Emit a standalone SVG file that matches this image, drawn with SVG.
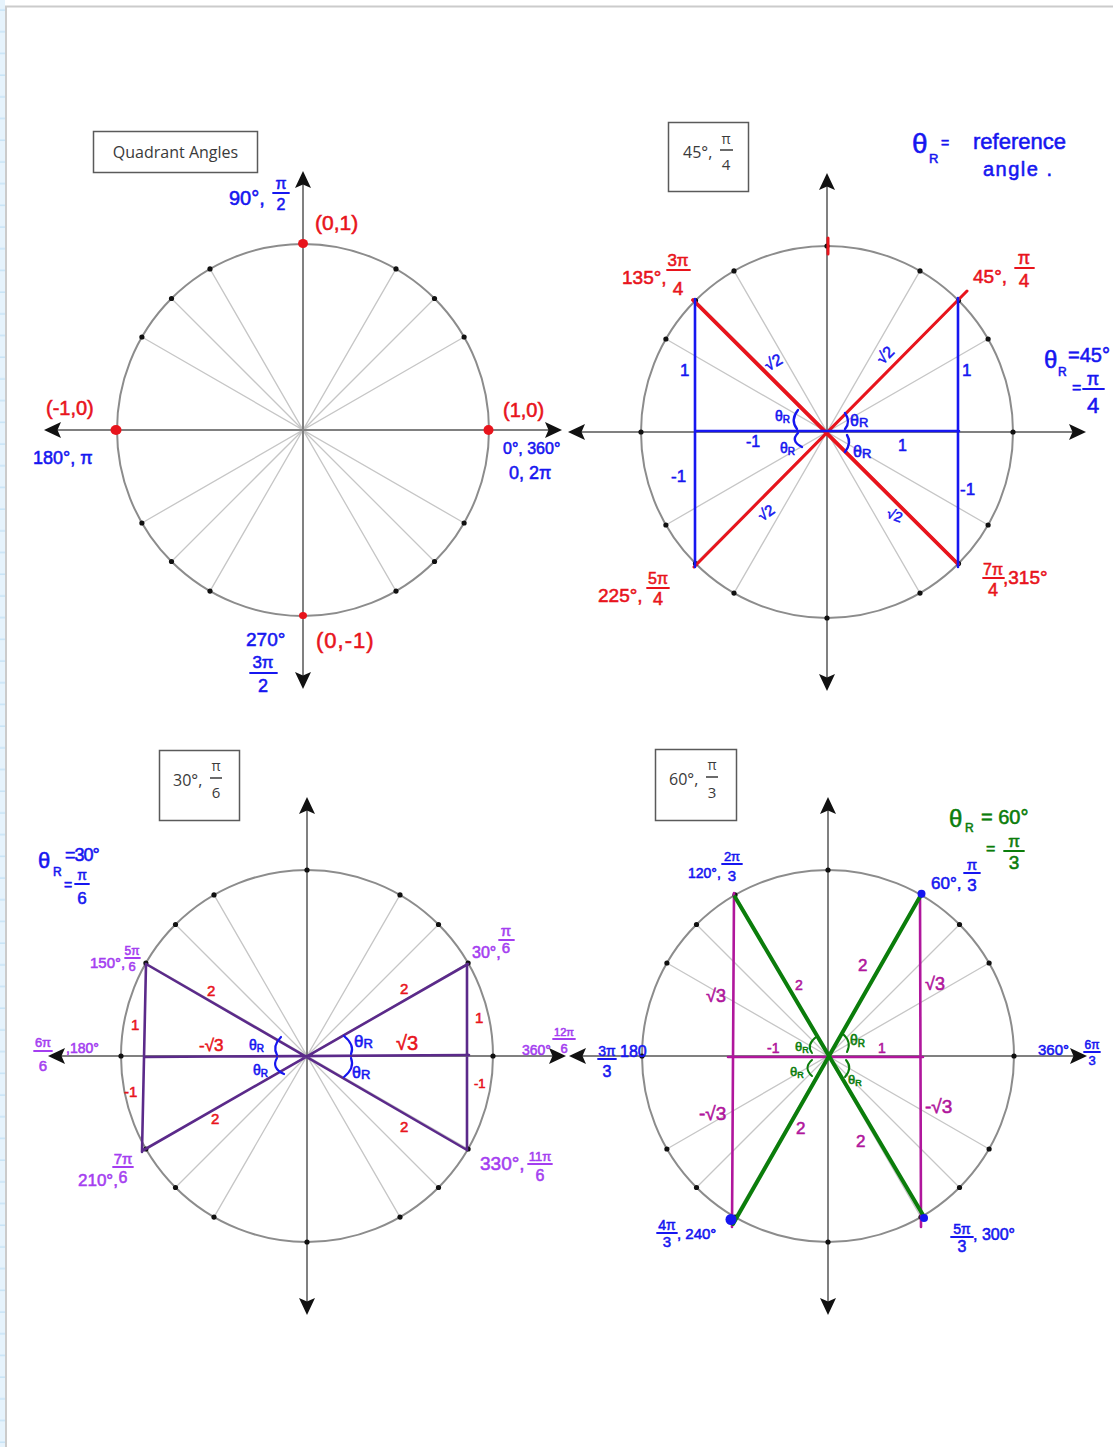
<svg xmlns="http://www.w3.org/2000/svg" width="1113" height="1447" viewBox="0 0 1113 1447">
<style>
.hw{font-family:"Liberation Sans",Arial,sans-serif;stroke-width:0.55;paint-order:stroke}
.mid{text-anchor:middle}
.b{fill:#1616f0;stroke:#1616f0}
.r{fill:#e8141c;stroke:#e8141c}
.p{fill:#a43ef0;stroke:#a43ef0}
.m{fill:#b0169c;stroke:#b0169c}
.g{fill:#0b7d0b;stroke:#0b7d0b}
.sb{stroke:#1616f0;fill:none;stroke-linecap:round}
.sr{stroke:#e8141c;fill:none;stroke-linecap:round}
.sp{stroke:#a43ef0;fill:none;stroke-linecap:round}
.sm{stroke:#b0169c;fill:none;stroke-linecap:round}
.sg{stroke:#0b7d0b;fill:none;stroke-linecap:round}
.sd{stroke:#5b2a8a;fill:none;stroke-linecap:round}
.bar{stroke-width:1.8}
.box{fill:#fff;stroke:#5a5a5a;stroke-width:1.5}
.bt{font-family:"Open Sans","Liberation Sans",sans-serif;fill:#3a3a3a}
.rad{stroke:#c6c6c6;stroke-width:1.3;fill:none}
.axis{stroke:#808080;stroke-width:2;fill:none}
.ring{stroke:#8c8c8c;stroke-width:2;fill:none}
.arr{fill:#111}
.dot{fill:#111}
</style>
<defs>
<pattern id="tick" width="5" height="21.7" patternUnits="userSpaceOnUse">
<rect width="5" height="21.7" fill="#e6f3fc"/>
<line x1="0" y1="10" x2="5" y2="10" stroke="#b8dcf4" stroke-width="1"/>
</pattern>
<g id="base">
<path class="rad" d="M-161.1,93 L161.1,-93 M-131.5,131.5 L131.5,-131.5 M-93,161.1 L93,-161.1 M-93,-161.1 L93,161.1 M-131.5,-131.5 L131.5,131.5 M-161.1,-93 L161.1,93"/>
<circle class="ring" cx="0" cy="0" r="186"/>
<path class="axis" d="M-246,0 H246 M0,-246 V246"/>
<path class="arr" d="M259,0 L242,-8 L245.5,0 L242,8 Z"/>
<path class="arr" d="M-259,0 L-242,-8 L-245.5,0 L-242,8 Z"/>
<path class="arr" d="M0,-259 L-8,-242 L0,-245.5 L8,-242 Z"/>
<path class="arr" d="M0,259 L-8,242 L0,245.5 L8,242 Z"/>
<g class="dot">
<circle cx="186" cy="0" r="2.6"/><circle cx="161.1" cy="-93" r="2.6"/><circle cx="131.5" cy="-131.5" r="2.6"/><circle cx="93" cy="-161.1" r="2.6"/>
<circle cx="0" cy="-186" r="2.6"/><circle cx="-93" cy="-161.1" r="2.6"/><circle cx="-131.5" cy="-131.5" r="2.6"/><circle cx="-161.1" cy="-93" r="2.6"/>
<circle cx="-186" cy="0" r="2.6"/><circle cx="-161.1" cy="93" r="2.6"/><circle cx="-131.5" cy="131.5" r="2.6"/><circle cx="-93" cy="161.1" r="2.6"/>
<circle cx="0" cy="186" r="2.6"/><circle cx="93" cy="161.1" r="2.6"/><circle cx="131.5" cy="131.5" r="2.6"/><circle cx="161.1" cy="93" r="2.6"/>
</g>
</g>
</defs>

<rect width="1113" height="1447" fill="#fff"/>
<g id="page-edge">
<rect x="0" y="0" width="5" height="1447" fill="url(#tick)"/>
<path d="M6,1447 V6.5 H1113" stroke="#cbcbcb" stroke-width="2" fill="none"/>
</g>

<!-- Panel 1: Quadrant Angles -->
<g id="panel-quadrant">
<use href="#base" x="303" y="430"/>
<rect class="box" x="93.5" y="131.5" width="164" height="41"/>
<text class="bt" x="175.5" y="158" font-size="16" text-anchor="middle">Quadrant Angles</text>
<g fill="#e8141c">
<ellipse cx="303" cy="243.5" rx="5" ry="4.5"/>
<ellipse cx="116" cy="430" rx="5.5" ry="5"/>
<ellipse cx="488.5" cy="430" rx="5" ry="5"/>
<ellipse cx="303" cy="615.5" rx="4" ry="3.5"/>
</g>
<text class="hw b" x="229" y="205" font-size="20">90°,</text>
<text class="hw b mid" x="281" y="189" font-size="16">π</text>
<line class="sb bar" x1="273" y1="193" x2="289" y2="193"/>
<text class="hw b mid" x="281" y="210" font-size="16">2</text>
<text class="hw r" x="315" y="230" font-size="21">(0,1)</text>
<text class="hw r" x="46" y="415" font-size="20">(-1,0)</text>
<text class="hw b" x="33" y="464" font-size="18">180°, π</text>
<text class="hw r" x="503" y="417" font-size="20">(1,0)</text>
<text class="hw b" x="503" y="454" font-size="16">0°, 360°</text>
<text class="hw b" x="509" y="479" font-size="18">0, 2π</text>
<text class="hw b" x="246" y="646" font-size="19">270°</text>
<text class="hw b mid" x="263" y="668" font-size="17">3π</text>
<line class="sb bar" x1="250" y1="673" x2="277" y2="673"/>
<text class="hw b mid" x="263" y="692" font-size="18">2</text>
<text class="hw r" x="316" y="648" font-size="22" letter-spacing="1">(0,-1)</text>
</g>

<!-- Panel 2: 45 degrees -->
<g id="panel-45">
<use href="#base" x="827" y="432"/>
<rect class="box" x="668.5" y="122.5" width="80" height="69"/>
<text class="bt" x="683" y="158" font-size="16">45°,</text>
<text class="bt" x="726" y="144" font-size="14" text-anchor="middle">π</text>
<line x1="720" y1="150" x2="733" y2="150" stroke="#3a3a3a" stroke-width="1.5"/>
<text class="bt" x="726" y="170" font-size="15" text-anchor="middle">4</text>
<path class="sr" stroke-width="3.8" d="M693,300 L958,564"/>
<path class="sr" stroke-width="3" d="M694,567 L967,291"/>
<path class="sb" stroke-width="2.6" d="M695,299 V567 M958,298 L958,567 M695,431 H959"/>
<path class="sr" stroke-width="3" d="M828,238 V254"/>
<path class="sb" stroke-width="2.4" d="M798,410 Q790,420 797,429 M798,433 Q790,441 802,447 M845,413 Q851,422 845,429 M847,435 Q852,443 845,452"/>
<text class="hw b" x="912" y="153" font-size="28">θ</text>
<text class="hw b" x="929" y="163" font-size="13">R</text>
<text class="hw b" x="941" y="148" font-size="14">=</text>
<text class="hw b" x="973" y="149" font-size="22">reference</text>
<text class="hw b" x="983" y="176" font-size="20" letter-spacing="1.5">angle .</text>
<text class="hw r" x="622" y="284" font-size="19">135°,</text>
<text class="hw r mid" x="678" y="266" font-size="17">3π</text>
<line class="sr bar" x1="667" y1="270" x2="690" y2="270"/>
<text class="hw r mid" x="678" y="295" font-size="19">4</text>
<text class="hw r" x="973" y="283" font-size="19">45°,</text>
<text class="hw r mid" x="1024" y="264" font-size="18">π</text>
<line class="sr bar" x1="1015" y1="268" x2="1034" y2="268"/>
<text class="hw r mid" x="1024" y="287" font-size="19">4</text>
<text class="hw r" x="598" y="602" font-size="19">225°,</text>
<text class="hw r mid" x="658" y="584" font-size="16">5π</text>
<line class="sr bar" x1="647" y1="588" x2="669" y2="588"/>
<text class="hw r mid" x="658" y="605" font-size="18">4</text>
<text class="hw r mid" x="993" y="575" font-size="16">7π</text>
<line class="sr bar" x1="983" y1="578" x2="1004" y2="578"/>
<text class="hw r mid" x="993" y="596" font-size="18">4</text>
<text class="hw r" x="1003" y="584" font-size="19">,315°</text>
<text class="hw b" x="1044" y="368" font-size="24">θ</text>
<text class="hw b" x="1058" y="376" font-size="12">R</text>
<text class="hw b" x="1068" y="362" font-size="20">=45°</text>
<text class="hw b" x="1072" y="393" font-size="16">=</text>
<text class="hw b mid" x="1093" y="385" font-size="18">π</text>
<line class="sb bar" x1="1083" y1="389" x2="1104" y2="389"/>
<text class="hw b mid" x="1093" y="413" font-size="22">4</text>
<text class="hw b mid" font-size="16" transform="translate(776,367) rotate(-30)">√2</text>
<text class="hw b mid" font-size="16" transform="translate(889,359) rotate(-45)">√2</text>
<text class="hw b mid" font-size="15" transform="translate(769,517) rotate(-35)">√2</text>
<text class="hw b mid" font-size="14" transform="translate(893,520) rotate(20)">√2</text>
<text class="hw b" x="680" y="376" font-size="17">1</text>
<text class="hw b" x="962" y="376" font-size="17">1</text>
<text class="hw b" x="671" y="482" font-size="17">-1</text>
<text class="hw b" x="960" y="495" font-size="17">-1</text>
<text class="hw b" x="746" y="447" font-size="16">-1</text>
<text class="hw b" x="898" y="451" font-size="16">1</text>
<text class="hw b" x="775" y="421" font-size="14">θ<tspan font-size="10" dy="2">R</tspan></text>
<text class="hw b" x="780" y="453" font-size="14">θ<tspan font-size="10" dy="2">R</tspan></text>
<text class="hw b" x="850" y="426" font-size="16">θ<tspan font-size="13" dy="1">R</tspan></text>
<text class="hw b" x="853" y="457" font-size="16">θ<tspan font-size="13" dy="1">R</tspan></text>
</g>

<!-- Panel 3: 30 degrees -->
<g id="panel-30">
<use href="#base" x="307" y="1056"/>
<rect class="box" x="159.5" y="750.5" width="80" height="70"/>
<text class="bt" x="173" y="786" font-size="16">30°,</text>
<text class="bt" x="216" y="771" font-size="14" text-anchor="middle">π</text>
<line x1="210" y1="778" x2="222" y2="778" stroke="#3a3a3a" stroke-width="1.5"/>
<text class="bt" x="216" y="798" font-size="15" text-anchor="middle">6</text>
<path class="sd" stroke-width="2.6" d="M146,964 L467,1150 M142,1151 L468,964 M146,964 L142,1152 M467,964 L467,1150 M146,1057 L469,1055"/>
<path class="sb" stroke-width="2.2" d="M281,1037 Q272,1046 277,1055 M277,1058 Q271,1068 284,1074 M344,1036 Q355,1045 351,1054 M351,1058 Q355,1068 344,1077"/>
<text class="hw b" x="38" y="868" font-size="22">θ</text>
<text class="hw b" x="53" y="876" font-size="12">R</text>
<text class="hw b" x="65" y="861" font-size="18" letter-spacing="-1">=30°</text>
<text class="hw b" x="64" y="890" font-size="14">=</text>
<text class="hw b mid" x="82" y="880" font-size="14">π</text>
<line class="sb bar" x1="75" y1="884" x2="89" y2="884"/>
<text class="hw b mid" x="82" y="904" font-size="17">6</text>
<text class="hw p" x="90" y="968" font-size="15">150°,</text>
<text class="hw p mid" x="132" y="955" font-size="12">5π</text>
<line class="sp bar" x1="125" y1="958" x2="140" y2="958"/>
<text class="hw p mid" x="132" y="971" font-size="13">6</text>
<text class="hw p" x="472" y="958" font-size="16">30°,</text>
<text class="hw p mid" x="506" y="936" font-size="15">π</text>
<line class="sp bar" x1="499" y1="940" x2="514" y2="940"/>
<text class="hw p mid" x="506" y="953" font-size="15">6</text>
<text class="hw p" x="78" y="1186" font-size="17">210°,</text>
<text class="hw p mid" x="123" y="1164" font-size="15">7π</text>
<line class="sp bar" x1="113" y1="1167" x2="133" y2="1167"/>
<text class="hw p mid" x="123" y="1183" font-size="16">6</text>
<text class="hw p" x="480" y="1170" font-size="19">330°,</text>
<text class="hw p mid" x="540" y="1161" font-size="13">11π</text>
<line class="sp bar" x1="528" y1="1164" x2="552" y2="1164"/>
<text class="hw p mid" x="540" y="1181" font-size="16">6</text>
<text class="hw p mid" x="43" y="1047" font-size="13">6π</text>
<line class="sp bar" x1="34" y1="1051" x2="52" y2="1051"/>
<text class="hw p mid" x="43" y="1071" font-size="15">6</text>
<text class="hw p" x="66" y="1053" font-size="14">,180°</text>
<text class="hw p" x="522" y="1055" font-size="14">360°</text>
<text class="hw p mid" x="564" y="1036" font-size="11">12π</text>
<line class="sp bar" x1="553" y1="1039" x2="575" y2="1039"/>
<text class="hw p mid" x="564" y="1053" font-size="13">6</text>
<text class="hw r" x="207" y="996" font-size="15">2</text>
<text class="hw r" x="400" y="994" font-size="15">2</text>
<text class="hw r" x="131" y="1030" font-size="15">1</text>
<text class="hw r" x="475" y="1023" font-size="15">1</text>
<text class="hw r" x="199" y="1051" font-size="17">-√3</text>
<text class="hw r" x="396" y="1050" font-size="20">√3</text>
<text class="hw r" x="124" y="1097" font-size="15">-1</text>
<text class="hw r" x="474" y="1088" font-size="13">-1</text>
<text class="hw r" x="211" y="1124" font-size="15">2</text>
<text class="hw r" x="400" y="1132" font-size="15">2</text>
<text class="hw b" x="249" y="1050" font-size="14">θ<tspan font-size="10" dy="2">R</tspan></text>
<text class="hw b" x="253" y="1075" font-size="14">θ<tspan font-size="10" dy="2">R</tspan></text>
<text class="hw b" x="354" y="1047" font-size="17">θ<tspan font-size="13" dy="1">R</tspan></text>
<text class="hw b" x="352" y="1078" font-size="16">θ<tspan font-size="13" dy="1">R</tspan></text>
</g>

<!-- Panel 4: 60 degrees -->
<g id="panel-60">
<use href="#base" x="828" y="1056"/>
<rect class="box" x="655.5" y="749.5" width="81" height="71"/>
<text class="bt" x="669" y="785" font-size="16">60°,</text>
<text class="bt" x="712" y="770" font-size="14" text-anchor="middle">π</text>
<line x1="706" y1="777" x2="718" y2="777" stroke="#3a3a3a" stroke-width="1.5"/>
<text class="bt" x="712" y="798" font-size="15" text-anchor="middle">3</text>
<path class="sm" stroke-width="2.6" d="M734,893 L732,1227 M920,895 L921,1227 M728,1057 L923,1057"/>
<path class="sg" stroke-width="4" d="M735,897 L923,1215 M921,895 L733,1224"/>
<g fill="#1616f0">
<circle cx="921.5" cy="893.8" r="4"/>
<circle cx="731" cy="1219.5" r="5.5"/>
<circle cx="924" cy="1218" r="4"/>
</g>
<path class="sg" stroke-width="2" d="M816,1037 Q806,1045 812,1053 M812,1060 Q803,1068 812,1076 M843,1034 Q852,1042 847,1052 M846,1060 Q853,1068 845,1077"/>
<text class="hw g" x="949" y="827" font-size="24">θ</text>
<text class="hw g" x="965" y="832" font-size="12">R</text>
<text class="hw g" x="981" y="824" font-size="20">= 60°</text>
<text class="hw g" x="986" y="854" font-size="16">=</text>
<text class="hw g mid" x="1014" y="847" font-size="17">π</text>
<line class="sg bar" x1="1004" y1="851" x2="1024" y2="851"/>
<text class="hw g mid" x="1014" y="869" font-size="19">3</text>
<text class="hw b" x="688" y="878" font-size="14">120°,</text>
<text class="hw b mid" x="732" y="861" font-size="13">2π</text>
<line class="sb bar" x1="722" y1="864" x2="742" y2="864"/>
<text class="hw b mid" x="732" y="881" font-size="15">3</text>
<text class="hw b" x="931" y="889" font-size="17">60°,</text>
<text class="hw b mid" x="972" y="870" font-size="15">π</text>
<line class="sb bar" x1="964" y1="873" x2="980" y2="873"/>
<text class="hw b mid" x="972" y="891" font-size="17">3</text>
<text class="hw b mid" x="667" y="1230" font-size="14">4π</text>
<line class="sb bar" x1="657" y1="1233" x2="677" y2="1233"/>
<text class="hw b mid" x="667" y="1247" font-size="15">3</text>
<text class="hw b" x="677" y="1239" font-size="15">, 240°</text>
<text class="hw b mid" x="962" y="1234" font-size="14">5π</text>
<line class="sb bar" x1="951" y1="1237" x2="973" y2="1237"/>
<text class="hw b mid" x="962" y="1252" font-size="16">3</text>
<text class="hw b" x="973" y="1240" font-size="16">, 300°</text>
<text class="hw b mid" x="607" y="1056" font-size="14">3π</text>
<line class="sb bar" x1="598" y1="1059" x2="616" y2="1059"/>
<text class="hw b mid" x="607" y="1077" font-size="16">3</text>
<text class="hw b" x="620" y="1057" font-size="16">180</text>
<text class="hw b" x="1038" y="1055" font-size="15">360°</text>
<text class="hw b mid" x="1092" y="1049" font-size="12">6π</text>
<line class="sb bar" x1="1084" y1="1052" x2="1100" y2="1052"/>
<text class="hw b mid" x="1092" y="1065" font-size="13">3</text>
<text class="hw m" x="706" y="1002" font-size="18">√3</text>
<text class="hw m" x="795" y="990" font-size="14">2</text>
<text class="hw m" x="858" y="971" font-size="17">2</text>
<text class="hw m" x="925" y="990" font-size="18">√3</text>
<text class="hw m" x="767" y="1053" font-size="14">-1</text>
<text class="hw m" x="878" y="1053" font-size="14">1</text>
<text class="hw m" x="699" y="1120" font-size="19">-√3</text>
<text class="hw m" x="796" y="1134" font-size="17">2</text>
<text class="hw m" x="856" y="1147" font-size="17">2</text>
<text class="hw m" x="925" y="1113" font-size="19">-√3</text>
<text class="hw g" x="795" y="1051" font-size="13">θ<tspan font-size="9" dy="2">R</tspan></text>
<text class="hw g" x="790" y="1076" font-size="13">θ<tspan font-size="9" dy="2">R</tspan></text>
<text class="hw g" x="850" y="1045" font-size="14">θ<tspan font-size="10" dy="2">R</tspan></text>
<text class="hw g" x="848" y="1084" font-size="13">θ<tspan font-size="9" dy="2">R</tspan></text>
</g>
</svg>
